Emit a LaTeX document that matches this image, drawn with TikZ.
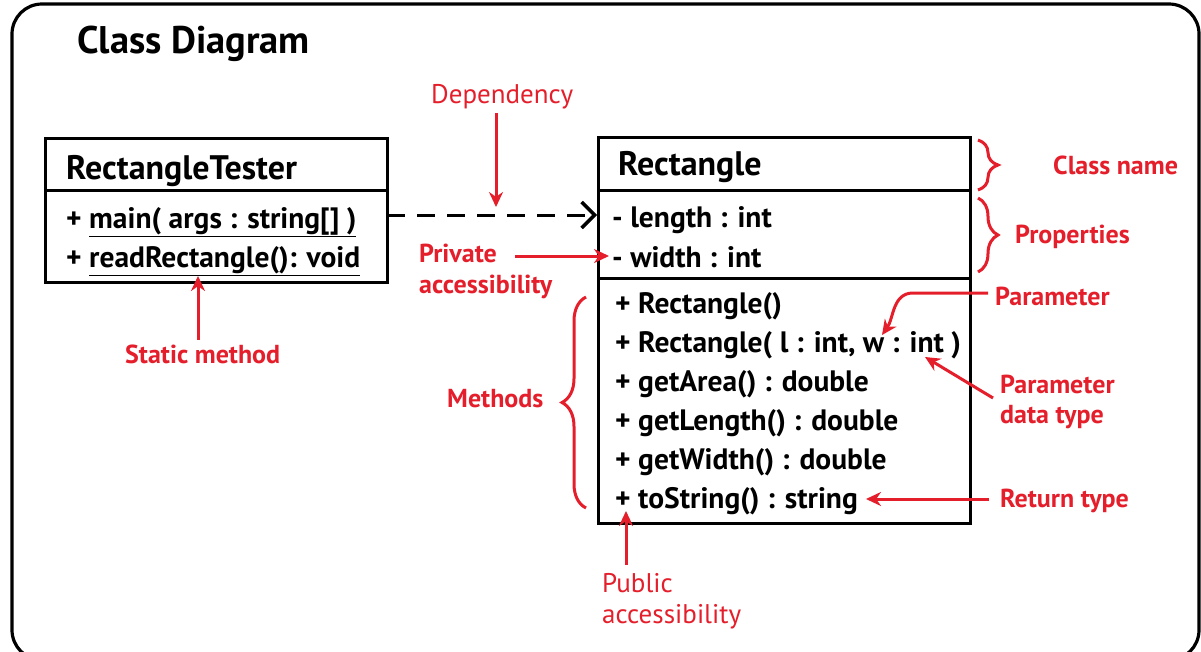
\documentclass[tikz,border=0pt]{standalone}
\usepackage{fontspec}
\setmainfont{PT Sans}
\usetikzlibrary{arrows.meta,decorations.pathreplacing}
\definecolor{annot}{RGB}{228,30,42}
\begin{document}
\begin{tikzpicture}[x=1pt,y=-1pt,
  frame/.style={line width=3.2pt,rounded corners=30pt},
  umlbox/.style={draw,line width=3pt,inner sep=0pt},
  divider/.style={line width=3pt},
  clsname/.style={anchor=base west,inner sep=0pt,font=\fontsize{34}{34}\selectfont\bfseries},
  member/.style={anchor=base west,inner sep=0pt,font=\fontsize{29.5}{29.5}\selectfont\bfseries},
  note/.style={anchor=base west,inner sep=0pt,text=annot,font=\fontsize{26}{26}\selectfont\bfseries},
  lightnote/.style={anchor=base west,inner sep=0pt,text=annot,font=\fontsize{27}{27}\selectfont},
  pointer/.style={draw=annot,line width=3pt,-{Stealth[length=15pt,width=14pt]}},
  curly/.style={draw=annot,line width=3pt,decorate,decoration={brace,amplitude=#1}},
  depend/.style={line width=3pt,dash pattern=on 18pt off 12pt,-{Straight Barb[length=13pt,width=26pt,line width=3.5pt]}}
]
\useasboundingbox (0,0) rectangle (1201,651);
\begin{scope}
\clip (0,0) rectangle (1201,651);
\draw[frame] (12,4) rectangle (1199,660);
\end{scope}

% title
\node[anchor=base west,inner sep=0pt,font=\fontsize{38.5}{38.5}\selectfont\bfseries] (title) at (77,53) {Class Diagram};

% class RectangleTester
\node[umlbox,minimum width=342pt,minimum height=144pt] (tester) at (216,210) {};
\coordinate (tdivL) at (45,190);
\coordinate (tdivR) at (387,190);
\draw[divider] (tdivL) -- (tdivR);
\node[clsname] (testername) at (66,179) {RectangleTester};
\node[member] (tmain) at (66,228) {+ \underline{main( args : string[] )}};
\node[member] (tread) at (66,267) {+ \underline{readRectangle(): void}};

% class Rectangle
\node[umlbox,minimum width=372pt,minimum height=386pt] (rect) at (784,330) {};
\coordinate (rdiv1L) at (598,190);
\coordinate (rdiv1R) at (970,190);
\coordinate (rdiv2L) at (598,278);
\coordinate (rdiv2R) at (970,278);
\draw[divider] (rdiv1L) -- (rdiv1R);
\draw[divider] (rdiv2L) -- (rdiv2R);
\node[clsname] (rectname) at (618,175) {Rectangle};
\node[member] (plength) at (612,227) {- length : int};
\node[member] (pwidth) at (612,267) {- width : int};
\node[member] (m1) at (615,313) {+ Rectangle()};
\node[member] (m2) at (615,352) {+ Rectangle( l : int, w : int )};
\node[member] (m3) at (615,391) {+ getArea() : double};
\node[member] (m4) at (615,430) {+ getLength() : double};
\node[member] (m5) at (615,469) {+ getWidth() : double};
\node[member] (m6) at (615,508) {+ toString() : string};

% dependency connector
\coordinate (depstart) at (387,215);
\coordinate (depend) at (597,215);
\draw[depend] (depstart) -- (depend);

% annotations
\node[lightnote] (ldep) at (431,103) {Dependency};
\coordinate (ldeptail) at (496,113);
\coordinate (ldephead) at (496,207);
\draw[pointer] (ldeptail) -- (ldephead);

\node[note] (lpriv1) at (419,262) {Private};
\node[note] (lpriv2) at (419,293) {accessibility};
\coordinate (lprivtail) at (515,256);
\coordinate (lprivhead) at (609,256);
\draw[pointer] (lprivtail) -- (lprivhead);

\node[note] (lstatic) at (125,363) {Static method};
\coordinate (lstatictail) at (198,340);
\coordinate (lstatichead) at (198,276);
\draw[pointer] (lstatictail) -- (lstatichead);

\node[note] (lclass) at (1053,174) {Class name};
\coordinate (bcTop) at (978,140);
\coordinate (bcBot) at (978,190);
\draw[curly=20pt] (bcTop) -- (bcBot);

\node[note] (lprop) at (1015,243) {Properties};
\coordinate (bpTop) at (978,198);
\coordinate (bpBot) at (978,272);
\draw[curly=20pt] (bpTop) -- (bpBot);

\node[note] (lmeth) at (447,407) {Methods};
\coordinate (bmBot) at (586,508);
\coordinate (bmTop) at (586,297);
\draw[curly=24pt] (bmBot) -- (bmTop);

\node[note] (lparam) at (995,305) {Parameter};
\coordinate (lparamtail) at (988,293);
\coordinate (lparambend) at (913,293);
\coordinate (lparamhead) at (882,335);
\draw[pointer] (lparamtail) -- (lparambend) to[out=180,in=55] (lparamhead);

\node[note] (lptype1) at (1000,393) {Parameter};
\node[note] (lptype2) at (1000,423) {data type};
\coordinate (lptypetail) at (993,398);
\coordinate (lptypehead) at (925,357);
\draw[pointer] (lptypetail) -- (lptypehead);

\node[note] (lret) at (1000,507) {Return type};
\coordinate (lrettail) at (989,499);
\coordinate (lrethead) at (866,499);
\draw[pointer] (lrettail) -- (lrethead);

\node[lightnote] (lpub1) at (602,592) {Public};
\node[lightnote] (lpub2) at (602,623) {accessibility};
\coordinate (lpubtail) at (626,565);
\coordinate (lpubhead) at (626,511);
\draw[pointer] (lpubtail) -- (lpubhead);
\end{tikzpicture}
\end{document}
